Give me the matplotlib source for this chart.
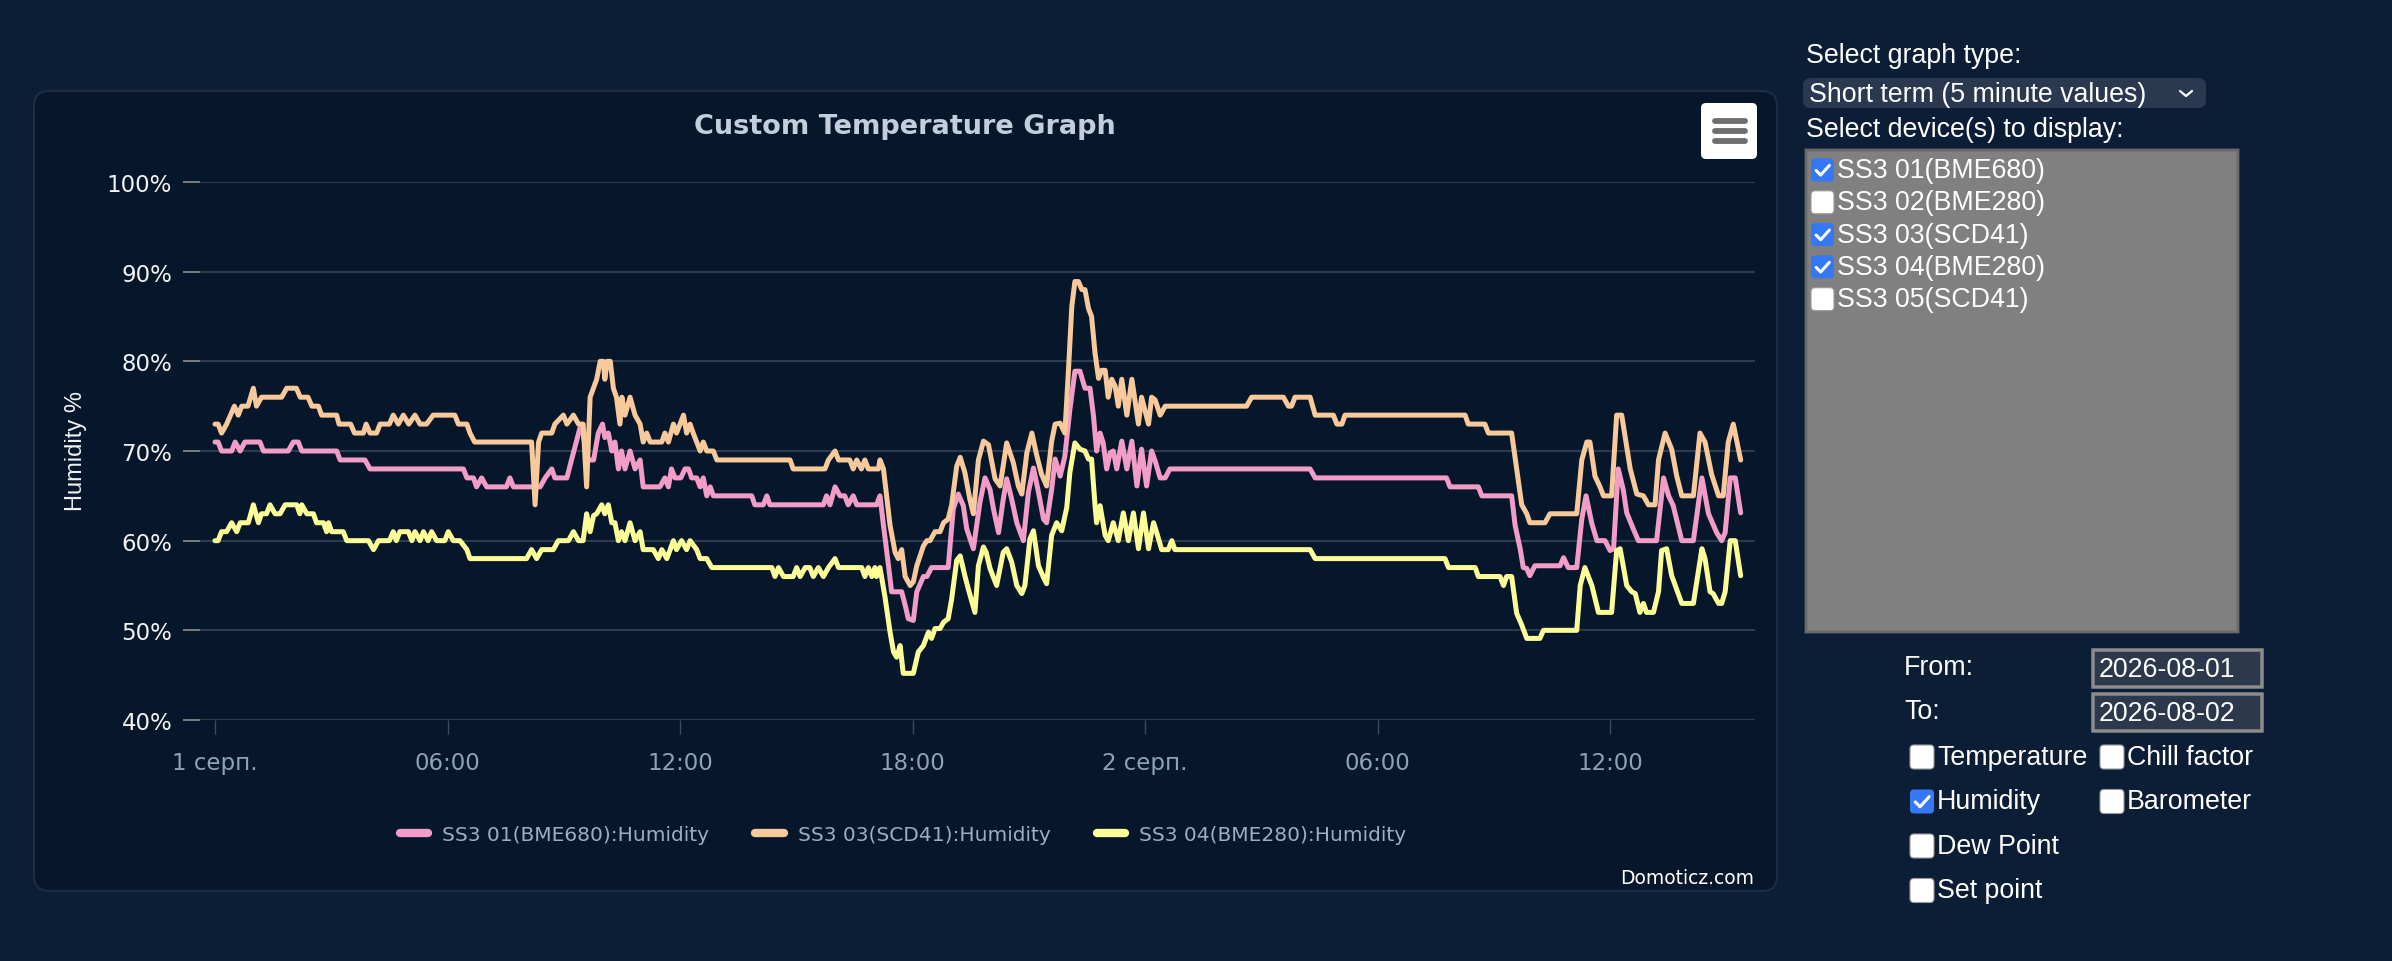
import matplotlib
matplotlib.use("Agg")
import matplotlib.pyplot as plt
from matplotlib.patches import FancyBboxPatch
from matplotlib.lines import Line2D
from matplotlib.transforms import IdentityTransform

# ---------------- data (hours since 1 Aug 00:00, humidity %) ----------------
pink_t = [0, 0.08, 0.17, 0.43, 0.52, 0.65, 0.77, 1.16, 1.25, 1.89, 2.02, 2.15, 2.24, 3.14, 3.23, 3.87, 4.0,
          6.41, 6.5, 6.67, 6.75, 6.88, 7.01, 7.52, 7.61, 7.7, 8.39, 8.52, 8.69, 8.77, 9.08, 9.2, 9.42, 9.5,
          9.6, 9.77, 9.89, 10.0, 10.06, 10.15, 10.24, 10.32, 10.41, 10.49, 10.58, 10.71, 10.84, 10.97, 11.05,
          11.48, 11.61, 11.7, 11.78, 11.87, 12.02, 12.13, 12.22, 12.3, 12.43, 12.52, 12.6, 12.69, 12.78, 12.86,
          13.85, 13.93, 14.15, 14.24, 14.32, 15.7, 15.78, 15.87, 16.0, 16.13, 16.25, 16.34, 16.47, 16.56, 17.07,
          17.16, 17.25, 17.38, 17.46, 17.72, 17.81, 17.89, 18.02, 18.11, 18.28, 18.37, 18.49, 18.92, 19.05,
          19.18, 19.31, 19.4, 19.57, 19.74, 19.87, 20.0, 20.09, 20.22, 20.34, 20.43, 20.56, 20.69, 20.86, 20.99,
          21.12, 21.25, 21.38, 21.46, 21.59, 21.68, 21.81, 21.93, 22.06, 22.19, 22.32, 22.45, 22.58, 22.67,
          22.75, 22.84, 22.92, 23.01, 23.1, 23.18, 23.27, 23.4, 23.53, 23.66, 23.79, 23.91, 24.04, 24.17, 24.26,
          24.39, 24.52, 24.64, 28.26, 28.39, 31.78, 31.87, 32.6, 32.69, 33.46, 33.55, 33.68, 33.76, 33.85,
          33.93, 34.06, 34.71, 34.8, 34.92, 35.14, 35.27, 35.38, 35.53, 35.66, 35.87, 36.0, 36.09, 36.21,
          36.34, 36.43, 36.6, 36.73, 37.2, 37.38, 37.51, 37.63, 37.85, 38.15, 38.37, 38.54, 38.75, 38.88,
          38.97, 39.1, 39.23, 39.37]
pink_v = [71, 71, 70, 70, 71, 70, 71, 71, 70, 70, 71, 71, 70, 70, 69, 69, 68,
          68, 67, 67, 66, 67, 66, 66, 67, 66, 66, 67, 68, 67, 67, 69, 72.6, 72,
          69, 69, 72, 73, 71.5, 72, 70, 71, 68, 70, 68, 70, 68, 69, 66,
          66, 67, 66, 68, 67, 67, 68, 68, 67, 67, 66, 67, 65, 66, 65,
          65, 64, 64, 65, 64, 64, 65, 64, 66, 65, 65, 64, 65, 64, 64,
          65, 61.7, 57.2, 54.3, 54.3, 52.8, 51.3, 51.1, 54.3, 56, 56, 57, 57, 63.5,
          65.2, 63.9, 61.3, 59.1, 64.3, 67, 65.7, 63.5, 60.9, 64.6, 66.9, 64.6, 62, 60, 65.4,
          68.1, 65.4, 62.4, 62, 65.7, 69.1, 67.2, 69.4, 74.6, 78.9, 78.9, 77, 77, 73.9,
          70, 72, 70.9, 68, 69.8, 70, 68, 71.1, 68, 71.1, 66.1, 70.2, 66.1, 70, 68.9,
          67, 67, 68, 68, 67, 67, 66, 66, 65, 65, 61.7, 59.1, 57, 56.9,
          56.1, 57.2, 57.2, 58.1, 57, 57, 62.4, 65, 61.9, 60, 60, 58.9, 59.1, 68,
          65.7, 63.1, 61.3, 60, 60, 67, 65, 63.9, 60, 60, 67, 63, 60.9, 60,
          60.9, 67, 67, 63.1]

orange_t = [0, 0.08, 0.17, 0.3, 0.5, 0.6, 0.69, 0.85, 0.99, 1.07, 1.2, 1.72, 1.85, 2.1, 2.2, 2.4, 2.5, 2.67,
            2.75, 3.14, 3.2, 3.5, 3.6, 3.83, 3.9, 4.0, 4.17, 4.26, 4.5, 4.6, 4.73, 4.86, 5.0, 5.16, 5.29, 5.46,
            5.63, 6.19, 6.28, 6.5, 6.58, 6.7, 8.17, 8.26, 8.35, 8.43, 8.69, 8.77, 8.99, 9.08, 9.25, 9.38, 9.5,
            9.59, 9.68, 9.85, 9.94, 10.02, 10.06, 10.12, 10.2, 10.28, 10.36, 10.45, 10.5, 10.58, 10.71, 10.84,
            10.97, 11.05, 11.14, 11.23, 11.53, 11.61, 11.7, 11.83, 11.91, 12.09, 12.17, 12.26, 12.34, 12.43,
            12.52, 12.6, 12.69, 12.86, 12.95, 14.84, 14.92, 15.74, 15.83, 16.0, 16.09, 16.38, 16.47, 16.56,
            16.68, 16.77, 16.86, 17.12, 17.16, 17.25, 17.42, 17.55, 17.63, 17.72, 17.81, 17.94, 18.02, 18.11,
            18.28, 18.37, 18.45, 18.58, 18.71, 18.8, 18.92, 19.01, 19.14, 19.23, 19.35, 19.48, 19.57, 19.7,
            19.83, 19.96, 20.13, 20.26, 20.43, 20.6, 20.73, 20.82, 20.95, 21.08, 21.2, 21.33, 21.46, 21.59,
            21.68, 21.81, 21.93, 22.02, 22.11, 22.19, 22.28, 22.37, 22.45, 22.54, 22.62, 22.71, 22.8, 22.88,
            22.97, 23.05, 23.14, 23.23, 23.31, 23.4, 23.53, 23.66, 23.83, 23.91, 24.09, 24.17, 24.26, 24.39,
            24.52, 26.62, 26.75, 27.57, 27.7, 27.78, 27.87, 28.26, 28.39, 28.86, 28.95, 29.08, 29.16, 32.26,
            32.34, 32.77, 32.86, 33.46, 33.59, 33.72, 33.85, 33.93, 34.32, 34.45, 35.14, 35.27, 35.4, 35.48,
            35.61, 35.74, 35.83, 36.04, 36.17, 36.3, 36.52, 36.69, 36.86, 36.99, 37.16, 37.25, 37.42, 37.59,
            37.72, 37.85, 38.15, 38.32, 38.45, 38.62, 38.8, 38.92, 39.05, 39.18, 39.37]
orange_v = [73, 73, 72, 73, 75, 74, 75, 75, 77, 75, 76, 76, 77, 77, 76, 76, 75, 75,
            74, 74, 73, 73, 72, 72, 73, 72, 72, 73, 73, 74, 73, 74, 73, 74, 73, 73,
            74, 74, 73, 73, 72, 71, 71, 64, 71, 72, 72, 73, 74, 73, 74, 73, 73,
            66, 76, 78, 80, 80, 78, 80, 80, 77, 76, 73, 76, 74, 76, 74,
            73, 71, 72, 71, 71, 72, 71, 73, 72, 74, 72, 73, 72, 71,
            70, 71, 70, 70, 69, 69, 68, 68, 69, 70, 69, 69, 68, 69,
            68, 69, 68, 68, 69, 68, 61.7, 58.7, 58, 59, 56, 55, 55.4, 57.2,
            59.4, 60, 60, 61, 61, 62, 62.4, 64, 68.3, 69.3, 67.6, 64.6, 63, 69,
            71.1, 70.7, 66.9, 66.1, 70.9, 68.7, 66.1, 65.2, 69.8, 72, 69.6, 67.4, 66.1, 71.1,
            73, 73.1, 72, 78.7, 86.1, 88.9, 88.9, 88, 88, 85.9, 85, 80.9, 78.1, 79,
            79, 76, 78, 77.2, 75, 78, 74, 78, 73, 76, 73, 76, 75.7, 74,
            75, 75, 76, 76, 75, 75, 76, 76, 74, 74, 73, 73, 74, 74,
            73, 73, 72, 72, 68, 64, 63, 62, 62, 63, 63, 69, 71, 71,
            67.2, 66, 65, 65, 74, 74, 68, 65.2, 65, 64, 64, 69, 72, 70.2,
            67.2, 65, 65, 72, 71, 67.4, 65, 65, 71, 73, 69]

yellow_t = [0, 0.08, 0.17, 0.3, 0.43, 0.56, 0.65, 0.86, 0.99, 1.12, 1.2, 1.33, 1.42, 1.55, 1.68, 1.81, 2.11,
            2.19, 2.24, 2.37, 2.54, 2.62, 2.8, 2.88, 2.93, 3.01, 3.31, 3.4, 3.96, 4.09, 4.22, 4.5, 4.6, 4.68,
            4.77, 4.99, 5.08, 5.16, 5.29, 5.38, 5.5, 5.59, 5.72, 5.93, 6.02, 6.15, 6.32, 6.5, 6.58, 8.04, 8.17,
            8.3, 8.43, 8.73, 8.86, 9.12, 9.25, 9.38, 9.5, 9.59, 9.68, 9.77, 9.85, 9.98, 10.06, 10.15, 10.24,
            10.32, 10.41, 10.49, 10.58, 10.71, 10.84, 10.97, 11.05, 11.31, 11.44, 11.53, 11.66, 11.83, 11.91,
            12.04, 12.17, 12.26, 12.43, 12.52, 12.69, 12.82, 14.37, 14.45, 14.54, 14.67, 14.92, 15.01, 15.1,
            15.23, 15.35, 15.44, 15.57, 15.7, 15.83, 16.0, 16.09, 16.69, 16.77, 16.86, 16.95, 17.03, 17.07,
            17.16, 17.29, 17.42, 17.51, 17.59, 17.68, 17.76, 18.02, 18.15, 18.28, 18.41, 18.49, 18.58, 18.71,
            18.8, 18.92, 19.01, 19.14, 19.23, 19.35, 19.44, 19.61, 19.7, 19.83, 19.9, 20.0, 20.17, 20.34,
            20.43, 20.56, 20.69, 20.82, 20.9, 21.03, 21.12, 21.25, 21.38, 21.46, 21.59, 21.72, 21.85, 21.98,
            22.06, 22.19, 22.32, 22.45, 22.54, 22.62, 22.71, 22.75, 22.84, 22.97, 23.05, 23.18, 23.31, 23.44,
            23.57, 23.7, 23.83, 23.96, 24.09, 24.22, 24.3, 24.43, 24.6, 24.69, 24.77, 28.26, 28.39, 31.74,
            31.83, 32.52, 32.6, 33.16, 33.25, 33.33, 33.46, 33.59, 33.72, 33.85, 34.19, 34.28, 35.14, 35.23,
            35.35, 35.53, 35.7, 36.04, 36.17, 36.26, 36.43, 36.56, 36.65, 36.77, 36.86, 36.94, 37.12, 37.25,
            37.33, 37.46, 37.59, 37.85, 38.15, 38.37, 38.45, 38.58, 38.66, 38.8, 38.88, 38.97, 39.1, 39.23,
            39.37]
yellow_v = [60, 60, 61, 61, 62, 61, 62, 62, 64, 62, 63, 63, 64, 63, 63, 64, 64,
            63, 64, 63, 63, 62, 62, 61, 62, 61, 61, 60, 60, 59, 60, 60, 61, 60,
            61, 61, 60, 61, 60, 61, 60, 61, 60, 60, 61, 60, 60, 59, 58, 58, 59,
            58, 59, 59, 60, 60, 61, 60, 60, 63, 61, 62.8, 63, 64, 63, 64, 62,
            62, 60, 61, 60, 62, 60, 61, 59, 59, 58, 59, 58, 60, 59,
            60, 59, 60, 59, 58, 58, 57, 57, 56, 57, 56, 56, 57, 56,
            57, 57, 56, 57, 56, 57, 58, 57, 57, 56, 57, 56, 57, 56,
            57, 53.7, 49.8, 47.6, 47, 48.3, 45.2, 45.2, 47.6, 48.3, 49.8, 49.1, 50.2, 50.2,
            50.9, 51.3, 53.5, 57.8, 58.3, 56.1, 54.6, 52, 57.2, 59.3, 58.7, 56.9, 55, 58.7,
            59.1, 57.6, 55, 54.1, 55, 60.2, 61.1, 57.2, 55.9, 55.2, 60.6, 62, 61.1, 63.7,
            67.6, 70.9, 70.2, 70, 69.1, 69.1, 63.9, 62, 63.9, 60.6, 60, 62, 60, 63.1,
            60, 63.1, 59.1, 63.1, 59.1, 62, 60.9, 59, 59, 60, 59, 59, 58, 58,
            57, 57, 56, 56, 55, 56, 56, 51.9, 50.6, 49.1, 49.1, 50, 50, 55,
            57, 55, 52, 52, 58.9, 59.1, 55, 54.3, 54.1, 52, 53, 52, 52, 54.3,
            58.9, 59.1, 56.1, 53, 53, 59.1, 58, 54.3, 54.1, 53, 53, 54.3, 60, 60,
            56.1]

series_names = ["SS3 01(BME680):Humidity", "SS3 03(SCD41):Humidity", "SS3 04(BME280):Humidity"]
series_colors = ["#f29cc8", "#f8c99b", "#fdfd98"]

x_tick_pos = [0, 6, 12, 18, 24, 30, 36]
x_tick_labels = ["1 серп.", "06:00", "12:00", "18:00", "2 серп.", "06:00", "12:00"]
y_ticks = [40, 50, 60, 70, 80, 90, 100]

devices = ["SS3 01(BME680)", "SS3 02(BME280)", "SS3 03(SCD41)", "SS3 04(BME280)", "SS3 05(SCD41)"]
devices_checked = [True, False, True, True, False]
types_left = ["Temperature", "Humidity", "Dew Point", "Set point"]
types_left_checked = [False, True, False, False]
types_right = ["Chill factor", "Barometer"]
types_right_checked = [False, False]

# ---------------- style ----------------
PAGE_BG = "#0c1e36"
CARD_BG = "#07172b"
CARD_EDGE = "#1d2d45"
GRID = "#2c3b4e"
CHART_FONT = ["DejaVu Sans Condensed", "DejaVu Sans"]
UI_FONT = ["Liberation Sans", "DejaVu Sans"]

W, H = 2392, 962
fig = plt.figure(figsize=(W / 100, H / 100), dpi=100)
fig.patch.set_facecolor(PAGE_BG)


def fx(x):
    return x / W


def fy(y):
    return 1 - y / H


def rbox(x0, y0, x1, y1, r, fc, ec="none", lw=0.0, z=1):
    p = FancyBboxPatch((x0, H - y1), x1 - x0, y1 - y0,
                       boxstyle=f"round,pad=0,rounding_size={r}",
                       facecolor=fc, edgecolor=ec, linewidth=lw,
                       transform=IdentityTransform(), zorder=z)
    fig.add_artist(p)
    return p


def pline(xs, ys, color, lw, z=5):
    l = Line2D(xs, [H - y for y in ys], color=color, linewidth=lw,
               transform=IdentityTransform(), zorder=z,
               solid_capstyle="round", solid_joinstyle="round")
    fig.add_artist(l)


def checkbox(x0, yc, size, checked):
    y0 = yc - size / 2
    if checked:
        rbox(x0, y0, x0 + size, y0 + size, 4, "#3478f6", z=4)
        pline([x0 + size * 0.22, x0 + size * 0.42, x0 + size * 0.80],
              [y0 + size * 0.52, y0 + size * 0.72, y0 + size * 0.30], "white", 2.2)
    else:
        rbox(x0, y0, x0 + size, y0 + size, 4, "white", ec="#9a9a9a", lw=0.8, z=4)


# chart card
rbox(34, 92, 1777, 892, 15, CARD_BG, ec=CARD_EDGE, lw=1.5, z=0.5)

# axes
ax = fig.add_axes([fx(200), fy(721), (1755 - 200) / W, (721 - 183) / H])
ax.set_zorder(2)
ax.set_facecolor("none")
for s in ax.spines.values():
    s.set_visible(False)

lines = []
for t, v, c, n in zip([pink_t, orange_t, yellow_t], [pink_v, orange_v, yellow_v],
                      series_colors, series_names):
    ln, = ax.plot(t, v, color=c, lw=3.6, solid_joinstyle="round", solid_capstyle="round",
                  label=n, zorder=3)
    lines.append(ln)

ax.set_xlim(-0.387, 39.74)
ax.set_ylim(40, 100)
ax.set_yticks(y_ticks)
ax.set_yticklabels([f"{v}%" for v in y_ticks], fontsize=16.5, color="#f2f2f2", family=CHART_FONT)
ax.set_xticks(x_tick_pos)
ax.set_xticklabels(x_tick_labels, fontsize=16.5, color="#8ea1b6", family=CHART_FONT)
ax.yaxis.grid(True, color=GRID, lw=1.5, zorder=1)
ax.tick_params(axis="y", length=12, width=1.4, color="#7c7c7c", pad=8)
ax.tick_params(axis="x", length=10, width=1.0, color="#3c4b60", pad=12)

# titles / labels
fig.text(fx(905), fy(127), "Custom Temperature Graph", ha="center", va="center",
         fontsize=19.5, fontweight="bold", color="#c3cedc", family=CHART_FONT)
fig.text(fx(76), fy(451), "Humidity %", rotation=90, ha="center", va="center",
         fontsize=17, color="#f2f2f2", family=UI_FONT)
fig.text(fx(1754), fy(879), "Domoticz.com", ha="right", va="center",
         fontsize=13.5, color="#ffffff", family=CHART_FONT)

leg = fig.legend(lines, series_names, loc="center", bbox_to_anchor=(fx(903), fy(836)),
                 ncol=3, frameon=False, handlelength=1.4, handletextpad=0.7,
                 columnspacing=2.3, prop={"family": CHART_FONT, "size": 14.5})
for txt in leg.get_texts():
    txt.set_color("#9eadbf")
for h in leg.legend_handles:
    h.set_linewidth(6)

# hamburger button
rbox(1701, 104, 1757, 160, 5, "white", z=3)
for yb in (121.5, 131.5, 141.5):
    pline([1715, 1745], [yb, yb], "#6e6e6e", 4.2, z=4)

# ---------------- right panel ----------------
ui = dict(family=UI_FONT, color="white", va="center", fontsize=19.3)
fig.text(fx(1806), fy(56), "Select graph type:", **ui)
rbox(1803, 79, 2206, 109, 8, "#2a3950", z=2)
fig.text(fx(1809), fy(95), "Short term (5 minute values)", **ui)
pline([2180, 2186, 2192], [92, 97, 92], "white", 1.6)
fig.text(fx(1806), fy(130), "Select device(s) to display:", **ui)

rbox(1806, 151, 2238, 633, 0, "#808080", ec="#6a6a6a", lw=2, z=2)
for i, (name, chk) in enumerate(zip(devices, devices_checked)):
    yc = 171 + i * 32.3
    checkbox(1811, yc, 23, chk)
    fig.text(fx(1837), fy(yc), name, **ui)

fig.text(fx(1904), fy(668), "From:", **ui)
fig.text(fx(1904), fy(712), "To:", **ui)
rbox(2093, 651, 2262, 688, 0, "#2c394d", ec="#8c8c8c", lw=2.5, z=2)
rbox(2093, 695, 2262, 732, 0, "#2c394d", ec="#8c8c8c", lw=2.5, z=2)
fig.text(fx(2099), fy(670), "2026-08-01", **ui)
fig.text(fx(2099), fy(714), "2026-08-02", **ui)

for i, (name, chk) in enumerate(zip(types_left, types_left_checked)):
    yc = 758 + i * 44.5
    checkbox(1910, yc, 24, chk)
    fig.text(fx(1937), fy(yc), name, **ui)
for i, (name, chk) in enumerate(zip(types_right, types_right_checked)):
    yc = 758 + i * 44.5
    checkbox(2100, yc, 24, chk)
    fig.text(fx(2127), fy(yc), name, **ui)

fig.savefig("out.png", dpi=100, facecolor=PAGE_BG)
